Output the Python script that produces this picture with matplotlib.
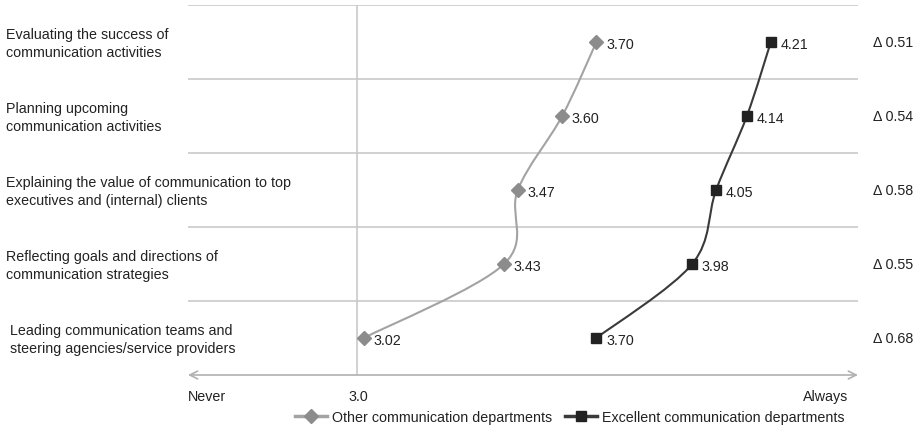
import numpy as np
import matplotlib
matplotlib.use("Agg")
import matplotlib.pyplot as plt
from matplotlib.path import Path
from matplotlib.patches import PathPatch
from matplotlib.lines import Line2D

plt.rcParams['font.family'] = ['Liberation Sans', 'DejaVu Sans']
plt.rcParams['font.size'] = 10.3

activities = [
    "Evaluating the success of\ncommunication activities",
    "Planning upcoming\ncommunication activities",
    "Explaining the value of communication to top\nexecutives and (internal) clients",
    "Reflecting goals and directions of\ncommunication strategies",
    " Leading communication teams and\n steering agencies/service providers",
]
other = [3.70, 3.60, 3.47, 3.43, 3.02]
excellent = [4.21, 4.14, 4.05, 3.98, 3.70]
series_names = ["Other communication departments", "Excellent communication departments"]

grey_line, grey_mark = '#a3a3a3', '#8c8c8c'
dark_line, dark_mark = '#3a3a3a', '#222222'
grid_c = '#c9c9c9'
txt_c = '#222222'

W, H = 920, 435
fig = plt.figure(figsize=(W / 100, H / 100), dpi=100)
ax = fig.add_axes([188 / W, 1 - 376 / H, 670 / W, 370 / H])
ax.set_xlim(3 - (357 - 188) / 342, 3 + (858 - 357) / 342)
ax.set_ylim(len(activities) - 0.5, -0.5)
ax.axis('off')


def smooth_path(xs, ys):
    # cubic bezier through the points, Catmull-Rom style tangents
    pts = np.column_stack([xs, ys])
    n = len(pts)
    verts = [pts[0]]
    codes = [Path.MOVETO]
    for i in range(n - 1):
        p0 = pts[max(i - 1, 0)]
        p1, p2 = pts[i], pts[i + 1]
        p3 = pts[min(i + 2, n - 1)]
        c1 = p1 + (p2 - p0) / 6
        c2 = p2 - (p3 - p1) / 6
        verts += [c1, c2, p2]
        codes += [Path.CURVE4] * 3
    return Path(verts, codes)


rows = np.arange(len(activities))

# row separators and the 3.0 reference line
for r in rows[:-1]:
    ax.axhline(r + 0.5, color=grid_c, lw=1.2, zorder=1)
ax.axhline(-0.5, color=grid_c, lw=1.2, zorder=1)
ax.plot([3.0, 3.0], [-0.5, len(activities) - 0.5], color=grid_c, lw=1.2, zorder=1)

xl = ax.get_xlim()
ax.annotate('', xy=(xl[1], 4.5), xytext=(xl[0], 4.5),
            arrowprops=dict(arrowstyle='<->', color='#b0b0b0', lw=1.2,
                            shrinkA=0, shrinkB=0, mutation_scale=14),
            annotation_clip=False)

ax.add_patch(PathPatch(smooth_path(other, rows), fill=False, edgecolor=grey_line, lw=1.5, zorder=2))
ax.add_patch(PathPatch(smooth_path(excellent, rows), fill=False, edgecolor=dark_line, lw=1.5, zorder=2))
ax.plot(other, rows, ls='none', marker='D', ms=7, color=grey_mark, zorder=3)
ax.plot(excellent, rows, ls='none', marker='s', ms=7, color=dark_mark, zorder=3)

for vals in (other, excellent):
    for v, r in zip(vals, rows):
        ax.annotate(f"{v:.2f}", (v, r), xytext=(7, -1.5), textcoords='offset points',
                    ha='left', va='center', color=txt_c)

# gap between the two groups at the right edge
for e, o, r in zip(excellent, other, rows):
    ax.annotate(f"\u0394 {e - o:.2f}", (0, r), xycoords=('figure fraction', 'data'),
                xytext=(873 / W, 0), textcoords=('figure fraction', 'offset points'),
                ha='left', va='center', color=txt_c, annotation_clip=False)

for lbl, r in zip(activities, rows):
    ax.annotate(lbl, (0, r), xycoords=('figure fraction', 'data'),
                xytext=(6 / W, -1), textcoords=('figure fraction', 'offset points'),
                ha='left', va='center', linespacing=1.35, color=txt_c,
                annotation_clip=False)

ty = 1 - 397 / H
fig.text(188 / W, ty, "Never", ha='left', va='center', color=txt_c)
fig.text(358 / W, ty, "3.0", ha='center', va='center', color=txt_c)
fig.text(848 / W, ty, "Always", ha='right', va='center', color=txt_c)

handles = [
    Line2D([], [], color=grey_line, lw=2.5, marker='D', ms=7, mfc=grey_mark, mec=grey_mark),
    Line2D([], [], color=dark_line, lw=2.5, marker='s', ms=7, mfc=dark_mark, mec=dark_mark),
]
fig.legend(handles, series_names, loc='center', bbox_to_anchor=(570 / W, 1 - 418 / H),
           ncol=2, frameon=False, handlelength=2.2, handletextpad=0.4, columnspacing=0.9,
           labelcolor=txt_c)

fig.savefig("out.png", dpi=100)
